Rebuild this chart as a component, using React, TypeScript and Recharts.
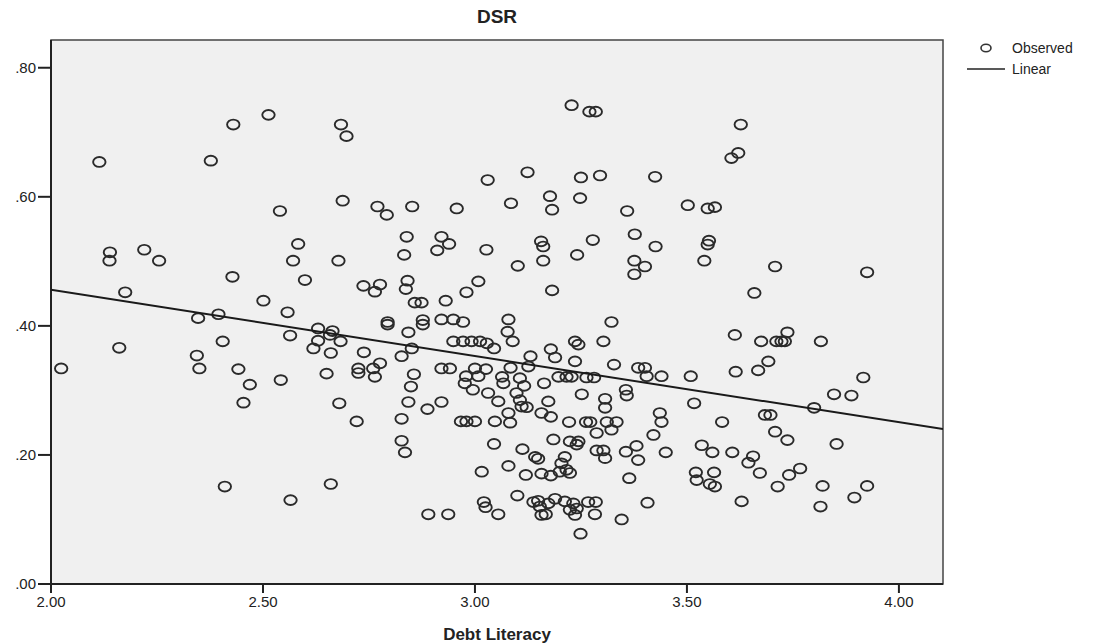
import {
  ScatterChart,
  Scatter,
  XAxis,
  YAxis,
  ReferenceArea,
  Legend,
} from "recharts";

// Debt Literacy (x) and DSR (y)
const debtLiteracy = [
  2.114, 2.377, 2.430, 2.513, 2.684, 2.697, 2.688, 2.540, 2.583, 2.571, 2.678, 2.599,
  2.139, 2.138, 2.220, 2.255, 2.428, 2.175, 2.501, 2.558, 2.347, 2.395, 2.630, 2.664,
  2.564, 2.024, 2.161, 2.344, 2.350, 2.405, 2.442, 2.469, 2.454, 2.542, 2.680, 2.650,
  2.660, 2.619, 2.630, 2.658, 2.683, 2.738, 2.725, 2.725, 2.760, 2.764, 2.776, 2.737,
  2.764, 2.776, 2.721, 2.410, 2.565, 2.660, 3.228, 3.270, 3.285, 3.124, 3.030, 3.250,
  3.295, 2.770, 2.792, 2.852, 2.957, 3.085, 3.177, 3.182, 3.248, 3.359, 3.377, 3.376,
  3.376, 2.839, 2.833, 2.921, 2.939, 2.911, 3.027, 3.156, 3.161, 3.161, 3.101, 3.241,
  3.278, 2.841, 2.837, 2.858, 2.874, 2.931, 2.980, 3.008, 3.182, 2.794, 2.794, 2.843,
  2.877, 2.877, 2.921, 2.949, 2.972, 3.079, 3.077, 3.322, 2.827, 2.851, 2.856, 2.849,
  2.843, 2.888, 2.921, 2.827, 2.827, 2.835, 2.949, 2.972, 2.992, 3.012, 3.028, 3.045,
  3.089, 3.131, 3.179, 3.189, 3.236, 3.244, 3.303, 3.236, 3.328, 2.921, 2.941, 2.979,
  3.000, 3.008, 3.026, 2.976, 2.995, 3.031, 3.064, 3.067, 3.084, 3.106, 3.126, 3.116,
  3.098, 3.106, 3.110, 3.122, 3.055, 3.079, 2.967, 2.980, 3.000, 3.047, 3.083, 3.163,
  3.173, 3.157, 3.179, 3.197, 3.216, 3.228, 3.263, 3.281, 3.252, 3.307, 3.307, 3.356,
  3.358, 3.222, 3.262, 3.272, 3.311, 3.334, 3.322, 3.287, 3.185, 3.224, 3.240, 3.244,
  3.287, 3.303, 3.307, 3.356, 3.381, 3.385, 3.364, 3.045, 3.112, 3.142, 3.149, 3.212,
  3.204, 3.200, 3.216, 3.224, 3.157, 3.179, 3.120, 3.079, 3.016, 3.100, 3.021, 3.025,
  3.055, 2.890, 2.937, 3.138, 3.149, 3.153, 3.173, 3.189, 3.157, 3.167, 3.212, 3.232,
  3.224, 3.240, 3.236, 3.267, 3.285, 3.283, 3.249, 3.346, 3.627, 3.621, 3.605, 3.425,
  3.502, 3.549, 3.566, 3.426, 3.552, 3.549, 3.541, 3.401, 3.708, 3.925, 3.659, 3.613,
  3.675, 3.711, 3.723, 3.731, 3.737, 3.816, 3.692, 3.615, 3.668, 3.385, 3.401, 3.405,
  3.440, 3.509, 3.916, 3.847, 3.888, 3.800, 3.517, 3.436, 3.440, 3.583, 3.684, 3.697,
  3.708, 3.737, 3.853, 3.421, 3.450, 3.535, 3.560, 3.607, 3.656, 3.645, 3.672, 3.521,
  3.523, 3.564, 3.554, 3.566, 3.714, 3.741, 3.767, 3.820, 3.815, 3.895, 3.925, 3.629,
  3.407,
];

const dsr = [
  0.654, 0.656, 0.712, 0.727, 0.712, 0.694, 0.594, 0.578, 0.527, 0.501, 0.501, 0.471,
  0.514, 0.501, 0.518, 0.501, 0.476, 0.452, 0.439, 0.421, 0.412, 0.418, 0.396, 0.392,
  0.385, 0.334, 0.366, 0.354, 0.334, 0.376, 0.333, 0.309, 0.281, 0.316, 0.280, 0.326,
  0.358, 0.365, 0.377, 0.386, 0.376, 0.359, 0.334, 0.327, 0.334, 0.321, 0.342, 0.462,
  0.453, 0.464, 0.252, 0.151, 0.130, 0.155, 0.742, 0.732, 0.732, 0.638, 0.626, 0.630,
  0.633, 0.585, 0.572, 0.585, 0.582, 0.590, 0.601, 0.580, 0.598, 0.578, 0.542, 0.501,
  0.480, 0.538, 0.510, 0.538, 0.527, 0.517, 0.518, 0.531, 0.523, 0.501, 0.493, 0.510,
  0.533, 0.470, 0.457, 0.436, 0.436, 0.439, 0.452, 0.469, 0.455, 0.406, 0.402, 0.390,
  0.409, 0.402, 0.410, 0.410, 0.406, 0.410, 0.391, 0.406, 0.353, 0.365, 0.325, 0.306,
  0.282, 0.271, 0.282, 0.256, 0.222, 0.204, 0.376, 0.376, 0.376, 0.376, 0.373, 0.365,
  0.376, 0.353, 0.364, 0.351, 0.376, 0.371, 0.376, 0.345, 0.340, 0.334, 0.334, 0.322,
  0.334, 0.322, 0.333, 0.311, 0.301, 0.296, 0.321, 0.311, 0.335, 0.319, 0.337, 0.307,
  0.296, 0.285, 0.275, 0.274, 0.283, 0.265, 0.252, 0.252, 0.252, 0.252, 0.250, 0.311,
  0.283, 0.265, 0.259, 0.321, 0.321, 0.321, 0.320, 0.320, 0.294, 0.287, 0.273, 0.301,
  0.292, 0.251, 0.251, 0.251, 0.251, 0.251, 0.239, 0.234, 0.224, 0.221, 0.216, 0.221,
  0.207, 0.207, 0.195, 0.205, 0.214, 0.192, 0.164, 0.217, 0.209, 0.197, 0.194, 0.197,
  0.187, 0.174, 0.177, 0.172, 0.171, 0.168, 0.169, 0.183, 0.174, 0.137, 0.127, 0.119,
  0.108, 0.108, 0.108, 0.127, 0.129, 0.120, 0.125, 0.132, 0.107, 0.108, 0.128, 0.125,
  0.115, 0.117, 0.107, 0.127, 0.127, 0.108, 0.078, 0.100, 0.712, 0.668, 0.660, 0.631,
  0.587, 0.582, 0.584, 0.523, 0.532, 0.526, 0.501, 0.492, 0.492, 0.483, 0.451, 0.386,
  0.376, 0.376, 0.376, 0.376, 0.390, 0.376, 0.345, 0.329, 0.331, 0.335, 0.335, 0.322,
  0.322, 0.322, 0.320, 0.294, 0.292, 0.273, 0.280, 0.265, 0.251, 0.251, 0.262, 0.262,
  0.236, 0.223, 0.217, 0.231, 0.204, 0.215, 0.204, 0.204, 0.198, 0.188, 0.172, 0.173,
  0.161, 0.173, 0.155, 0.151, 0.151, 0.169, 0.179, 0.152, 0.120, 0.134, 0.152, 0.128,
  0.126,
];

// fitted linear line, at the two ends of the x axis
const fitX = [2.0, 4.104];
const fitY = [0.456, 0.24];

const xTicks = [2, 2.5, 3, 3.5, 4];
const yTicks = [0, 0.2, 0.4, 0.6, 0.8];

const X_MAX = 4.104;
const Y_MAX = 0.843;

const observed = debtLiteracy.map((x, i) => ({ x, y: dsr[i] }));
const linear = fitX.map((x, i) => ({ x, y: fitY[i] }));

const FONT = '"Liberation Sans", Arial, sans-serif';
const INK = "#222";

const Ring = (props: any) => (
  <ellipse
    cx={props.cx}
    cy={props.cy}
    rx={6.2}
    ry={4.9}
    fill="none"
    stroke="#2a2a2a"
    strokeWidth={1.9}
  />
);

const LegendBox = () => (
  <svg width={150} height={46} style={{ fontFamily: FONT }}>
    <ellipse cx={26} cy={12} rx={5} ry={3.8} fill="none" stroke="#333" strokeWidth={1.6} />
    <text x={52} y={17} fontSize={14} fill={INK}>
      Observed
    </text>
    <line x1={7} x2={45} y1={33} y2={33} stroke={INK} strokeWidth={1.5} />
    <text x={52} y={38} fontSize={14} fill={INK}>
      Linear
    </text>
  </svg>
);

export default function App() {
  return (
    <div
      style={{
        position: "absolute",
        left: 0,
        top: 0,
        width: 1117,
        height: 643,
        background: "#fff",
        fontFamily: FONT,
      }}
    >
      <div
        style={{
          position: "absolute",
          left: 0,
          top: 6,
          width: 994,
          textAlign: "center",
          fontSize: 19,
          fontWeight: "bold",
          lineHeight: "22px",
          color: INK,
        }}
      >
        DSR
      </div>
      <ScatterChart
        width={1117}
        height={643}
        margin={{ top: 40, right: 174, bottom: 0, left: 0 }}
      >
        <XAxis
          type="number"
          dataKey="x"
          domain={[2, X_MAX]}
          ticks={xTicks}
          allowDataOverflow
          height={59}
          tickFormatter={(v: number) => v.toFixed(2)}
          tick={{ fontSize: 15, fill: INK, fontFamily: FONT }}
          tickSize={9}
          tickMargin={3}
          tickLine={{ stroke: INK, strokeWidth: 2 }}
          axisLine={{ stroke: INK, strokeWidth: 2 }}
          label={{
            value: "Debt Literacy",
            position: "insideBottom",
            offset: 3,
            fontSize: 17,
            fontWeight: "bold",
            fill: INK,
            fontFamily: FONT,
          }}
        />
        <YAxis
          type="number"
          dataKey="y"
          domain={[0, Y_MAX]}
          ticks={yTicks}
          allowDataOverflow
          width={51}
          tickFormatter={(v: number) => v.toFixed(2).replace(/^0/, "")}
          tick={{ fontSize: 15, fill: INK, fontFamily: FONT }}
          tickSize={13}
          tickMargin={2}
          tickLine={{ stroke: INK, strokeWidth: 2 }}
          axisLine={{ stroke: INK, strokeWidth: 2 }}
        />
        <ReferenceArea
          x1={2}
          x2={X_MAX}
          y1={0}
          y2={Y_MAX}
          fill="#f0f0f0"
          fillOpacity={1}
          stroke="#444"
          strokeWidth={1.5}
        />
        <Legend
          layout="horizontal"
          align="center"
          verticalAlign="middle"
          content={() => <LegendBox />}
          wrapperStyle={{ left: 960, top: 36, width: 150, height: 46 }}
        />
        <Scatter
          name="Observed"
          data={observed}
          shape={Ring}
          isAnimationActive={false}
        />
        <Scatter
          name="Linear"
          data={linear}
          line={{ stroke: "#1a1a1a", strokeWidth: 2 }}
          shape={() => <g />}
          isAnimationActive={false}
        />
      </ScatterChart>
    </div>
  );
}
